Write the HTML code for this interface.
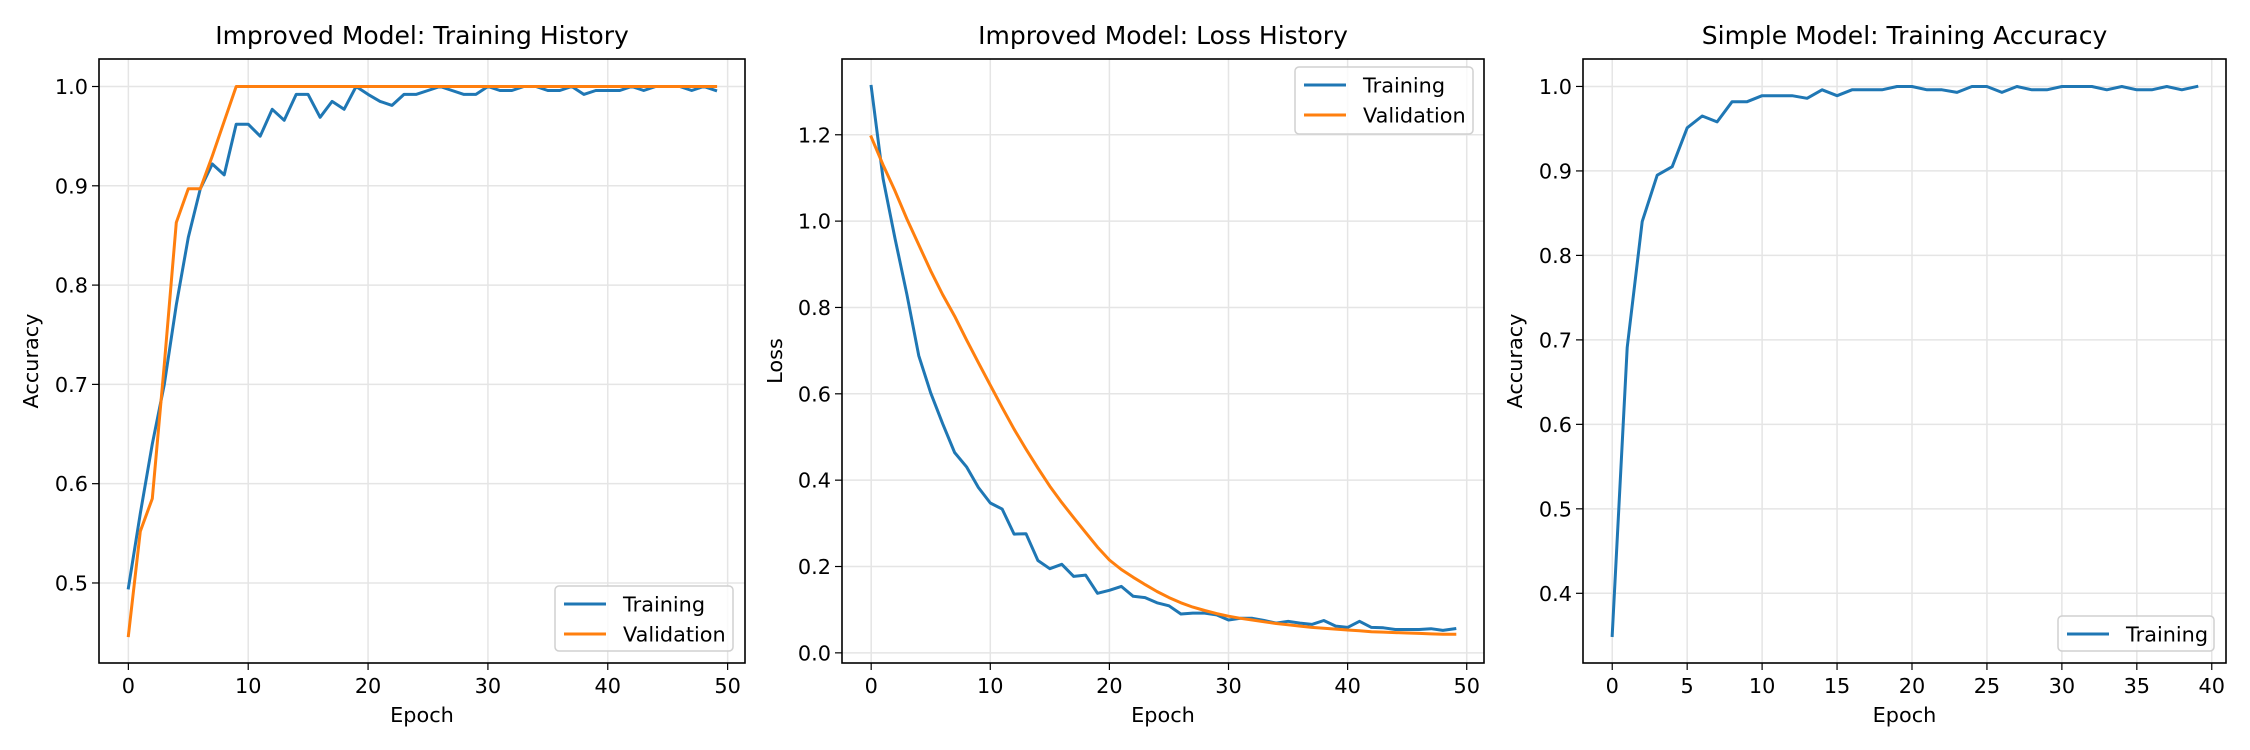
<!DOCTYPE html>
<html><head><meta charset="utf-8"><style>
body{margin:0;background:#fff;}
svg{display:block;font-family:"DejaVu Sans","Liberation Sans",sans-serif;}
</style></head><body>
<svg id="fig" width="2250" height="750" viewBox="0 0 2250 750"></svg>
<script>
const epochs50 = Array.from({length:50},(_,i)=>i);
const epochs40 = Array.from({length:40},(_,i)=>i);
const accTrain = [0.495,0.57,0.64,0.70,0.78,0.848,0.897,0.922,0.911,0.962,0.962,0.950,0.977,0.966,0.992,0.992,0.969,0.985,0.977,1.0,0.992,0.985,0.981,0.992,0.992,0.996,1.0,0.996,0.992,0.992,1.0,0.996,0.996,1.0,1.0,0.996,0.996,1.0,0.992,0.996,0.996,0.996,1.0,0.996,1.0,1.0,1.0,0.996,1.0,0.996];
const accVal = [0.447,0.552,0.585,0.72,0.863,0.897,0.897,0.93,0.965,1.0,1.0,1.0,1.0,1.0,1.0,1.0,1.0,1.0,1.0,1.0,1.0,1.0,1.0,1.0,1.0,1.0,1.0,1.0,1.0,1.0,1.0,1.0,1.0,1.0,1.0,1.0,1.0,1.0,1.0,1.0,1.0,1.0,1.0,1.0,1.0,1.0,1.0,1.0,1.0,1.0];
const lossTrain = [1.312,1.098,0.96,0.83,0.688,0.602,0.531,0.464,0.431,0.383,0.347,0.333,0.275,0.276,0.214,0.195,0.205,0.177,0.180,0.138,0.145,0.154,0.131,0.128,0.116,0.109,0.090,0.092,0.092,0.088,0.076,0.080,0.080,0.075,0.069,0.073,0.069,0.066,0.075,0.062,0.059,0.073,0.059,0.058,0.054,0.054,0.054,0.056,0.052,0.056];
const lossVal = [1.195,1.13,1.07,1.005,0.945,0.885,0.83,0.78,0.725,0.672,0.62,0.568,0.518,0.472,0.428,0.386,0.348,0.313,0.279,0.245,0.215,0.193,0.175,0.158,0.142,0.128,0.116,0.106,0.098,0.091,0.085,0.080,0.076,0.072,0.068,0.065,0.062,0.059,0.057,0.055,0.053,0.051,0.049,0.048,0.047,0.046,0.045,0.044,0.043,0.043];
const simpleTrain = [0.35,0.691,0.84,0.895,0.905,0.951,0.965,0.958,0.982,0.982,0.989,0.989,0.989,0.986,0.996,0.989,0.996,0.996,0.996,1.0,1.0,0.996,0.996,0.993,1.0,1.0,0.993,1.0,0.996,0.996,1.0,1.0,1.0,0.996,1.0,0.996,0.996,1.0,0.996,1.0];
const ticks1X = [0,10,20,30,40,50];
const ticks1Y = ["0.5","0.6","0.7","0.8","0.9","1.0"];
const ticks2Y = ["0.0","0.2","0.4","0.6","0.8","1.0","1.2"];
const ticks3X = [0,5,10,15,20,25,30,35,40];
const ticks3Y = ["0.4","0.5","0.6","0.7","0.8","0.9","1.0"];

const NS="http://www.w3.org/2000/svg";
const svg=document.getElementById('fig');
function mk(tag,attrs,parent,text){const e=document.createElementNS(NS,tag);for(const k in attrs)e.setAttribute(k,attrs[k]);if(text!==undefined)e.textContent=text;(parent||svg).appendChild(e);return e;}
const BLUE="#1f77b4",ORANGE="#ff7f0e";

function panel(cfg){
  const g=mk('g',{});
  
  
  const {L,R,T,B,xmin,xmax,ymin,ymax}=cfg;
  const sx=v=>L+(v-xmin)/(xmax-xmin)*(R-L);
  const sy=v=>B-(v-ymin)/(ymax-ymin)*(B-T);
  cfg.xt.forEach(t=>{
    const x=sx(t);
    const gl=mk('line',{x1:x,x2:x,y1:T,y2:B,stroke:'#e5e5e5','stroke-width':1.5},g);
    
    mk('line',{x1:x,x2:x,y1:B,y2:B+7,stroke:'#000','stroke-width':1.2},g);
    const tl=mk('text',{x:x,y:B+30,'text-anchor':'middle','font-size':20.8,fill:'#000'},g,String(t));
    
  });
  cfg.yt.forEach(s=>{
    const y=sy(parseFloat(s));
    const gl=mk('line',{x1:L,x2:R,y1:y,y2:y,stroke:'#e5e5e5','stroke-width':1.5},g);
    
    mk('line',{x1:L-7,x2:L,y1:y,y2:y,stroke:'#000','stroke-width':1.2},g);
    const tl=mk('text',{x:L-11,y:y+7.5,'text-anchor':'end','font-size':20.8,fill:'#000'},g,s);
    
  });
  cfg.series.forEach(se=>{
    const pts=se.y.map((v,i)=>sx(se.x[i]).toFixed(1)+','+sy(v).toFixed(1)).join(' ');
    const pl=mk('polyline',{points:pts,fill:'none',stroke:se.color,'stroke-width':3,'stroke-linejoin':'round','stroke-linecap':'square'},g);
    
  });
  const fr=mk('rect',{x:L,y:T,width:R-L,height:B-T,fill:'none',stroke:'#000','stroke-width':1.6},g);
  
  const ti=mk('text',{x:(L+R)/2,y:T-15,'text-anchor':'middle','font-size':25,fill:'#000'},g,cfg.title);
  
  const xl=mk('text',{x:(L+R)/2,y:722,'text-anchor':'middle','font-size':20.8,fill:'#000'},g,'Epoch');
  
  const cy=(T+B)/2;
  const yl=mk('text',{x:cfg.ylx,y:cy,'text-anchor':'middle','font-size':20.8,fill:'#000',transform:`rotate(-90 ${cfg.ylx} ${cy})`},g,cfg.ylabel);
  
  const lg=cfg.legend;
  const lgG=mk('g',{},g);
  
  mk('rect',{x:lg.x,y:lg.y,width:lg.w,height:lg.h,rx:4,fill:'rgba(255,255,255,0.8)',stroke:'#d0d0d0','stroke-width':1.5},lgG);
  cfg.series.forEach((se,i)=>{
    const ey=lg.y+18+i*30;
    const en=mk('g',{},lgG);
    
    mk('line',{x1:lg.x+9,x2:lg.x+51,y1:ey,y2:ey,stroke:se.color,'stroke-width':3},en);
    mk('text',{x:lg.x+68,y:ey+7.5,'font-size':20.8,fill:'#000'},en,se.label);
  });
}

panel({name:'improved-accuracy-chart',title:'Improved Model: Training History',ylabel:'Accuracy',ylx:38,
  L:99,R:745,T:59,B:663,xmin:-2.45,xmax:51.45,ymin:0.4194,ymax:1.0277,
  xt:ticks1X,yt:ticks1Y,
  series:[{name:'training-accuracy-line',label:'Training',x:epochs50,y:accTrain,color:BLUE},
          {name:'validation-accuracy-line',label:'Validation',x:epochs50,y:accVal,color:ORANGE}],
  legend:{x:555,y:586,w:178,h:65}});
panel({name:'improved-loss-chart',title:'Improved Model: Loss History',ylabel:'Loss',ylx:782,
  L:842,R:1484,T:59,B:663,xmin:-2.45,xmax:51.45,ymin:-0.0235,ymax:1.3755,
  xt:ticks1X,yt:ticks2Y,
  series:[{name:'training-loss-line',label:'Training',x:epochs50,y:lossTrain,color:BLUE},
          {name:'validation-loss-line',label:'Validation',x:epochs50,y:lossVal,color:ORANGE}],
  legend:{x:1295,y:67,w:178,h:67}});
panel({name:'simple-accuracy-chart',title:'Simple Model: Training Accuracy',ylabel:'Accuracy',ylx:1522,
  L:1583,R:2226,T:59,B:663,xmin:-1.95,xmax:40.95,ymin:0.3175,ymax:1.0325,
  xt:ticks3X,yt:ticks3Y,
  series:[{name:'simple-training-line',label:'Training',x:epochs40,y:simpleTrain,color:BLUE}],
  legend:{x:2058,y:616,w:156,h:35}});
</script>
</body></html>
